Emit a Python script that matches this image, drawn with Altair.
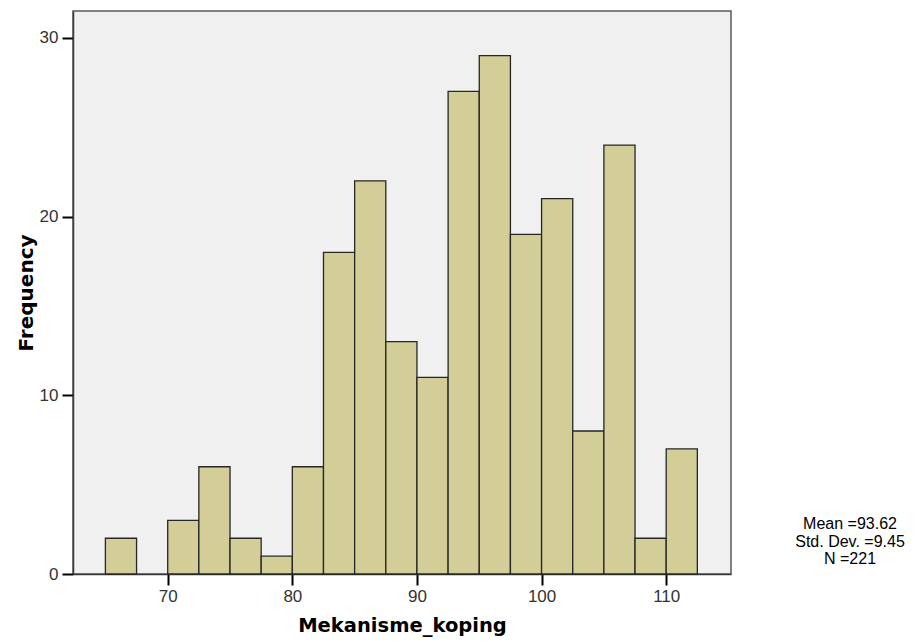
import altair as alt
import pandas as pd

# Histogram bins (lower edges, width 2.5) and frequencies
bin_start = [65.0, 67.5, 70.0, 72.5, 75.0, 77.5, 80.0, 82.5, 85.0, 87.5,
             90.0, 92.5, 95.0, 97.5, 100.0, 102.5, 105.0, 107.5, 110.0]
bin_width = 2.5
counts = [2, 0, 3, 6, 2, 1, 6, 18, 22, 13, 11, 27, 29, 19, 21, 8, 24, 2, 7]

x_ticks = [70, 80, 90, 100, 110]
y_ticks = [0, 10, 20, 30]
stats_lines = ["Mean =93.62", "Std. Dev. =9.45", "N =221"]

x_title = "Mekanisme_koping"
y_title = "Frequency"

df = pd.DataFrame({
    "start": bin_start,
    "end": [b + bin_width for b in bin_start],
    "count": counts,
})
df = df[df["count"] > 0]

W, H = 658, 563
FONT = "Liberation Sans"
TFONT = "DejaVu Sans"

bars = alt.Chart(df).mark_rect(
    fill="#D3CE97", stroke="#262626", strokeWidth=1.3
).encode(
    x=alt.X("start:Q",
            scale=alt.Scale(domain=[62.4, 115.2], nice=False, zero=False),
            axis=alt.Axis(values=x_ticks, title=x_title, format="d",
                          titleY=57, titleBaseline="alphabetic",
                          titleFontSize=19.5, labelPadding=3)),
    x2="end:Q",
    y=alt.Y("count:Q",
            scale=alt.Scale(domain=[0, 31.5], nice=False),
            axis=alt.Axis(values=y_ticks, title=y_title, format="d",
                          titleAngle=-90, titleX=-41, titleY=H / 2,
                          titleBaseline="alphabetic", titleAlign="center",
                          titleFontSize=20, labelPadding=4)),
    y2=alt.datum(0),
)

text_layers = []
baselines = [517.5, 535.5, 553]
for line, yb in zip(stats_lines, baselines):
    text_layers.append(
        alt.Chart(pd.DataFrame({"t": [line]})).mark_text(
            align="center", baseline="alphabetic", fontSize=16,
            font=FONT, color="#000000"
        ).encode(x=alt.value(777), y=alt.value(yb), text="t:N")
    )

chart = alt.layer(bars, *text_layers).properties(
    width=W, height=H,
    autosize=alt.AutoSizeParams(type="none"),
    padding={"left": 65, "top": 3, "right": 177, "bottom": 64},
).configure_view(
    fill="#F0F0F0", stroke="#5a5a5a", strokeWidth=1.5
).configure_axis(
    grid=False,
    domain=True, domainColor="#3a3a3a", domainWidth=1.5,
    tickColor="#000000", tickWidth=2, tickSize=11,
    labelFont=FONT, labelFontSize=17, labelColor="#333333",
    titleFont=TFONT, titleFontWeight="bold",
    titleColor="#000000",
)

chart.save("out.html", embed_options={"renderer": "svg", "actions": False})
